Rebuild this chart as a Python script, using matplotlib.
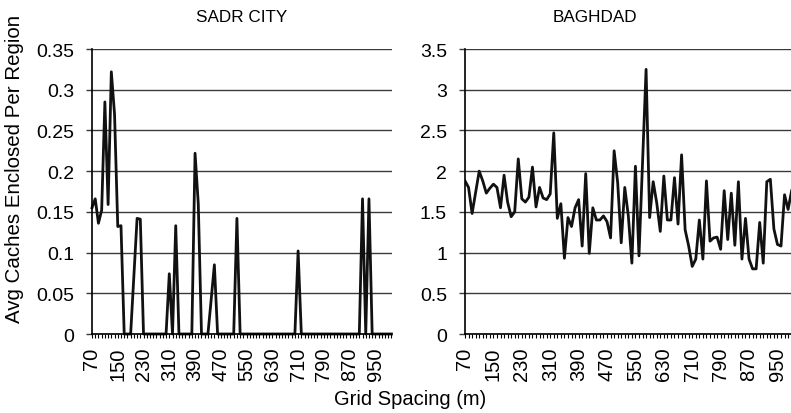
import numpy as np
from matplotlib import pyplot as plt
from matplotlib.ticker import MultipleLocator, FixedLocator

plt.rcParams['font.family'] = ['Liberation Sans', 'DejaVu Sans']

# grid spacing categories (m)
spacing = np.arange(70, 1001, 10)
tick_labels = [70, 150, 230, 310, 390, 470, 550, 630, 710, 790, 870, 950]

sadr_city = [
    0.155, 0.166, 0.136, 0.152, 0.285, 0.159, 0.322, 0.27, 0.132, 0.133,
    0, 0, 0, 0.071, 0.142, 0.141, 0, 0, 0, 0,
    0, 0, 0, 0, 0.074, 0, 0.133, 0, 0, 0,
    0, 0, 0.222, 0.16, 0, 0, 0, 0.042, 0.085, 0,
    0, 0, 0, 0, 0, 0.142, 0, 0, 0, 0,
    0, 0, 0, 0, 0, 0, 0, 0, 0, 0,
    0, 0, 0, 0, 0.102, 0, 0, 0, 0, 0,
    0, 0, 0, 0, 0, 0, 0, 0, 0, 0,
    0, 0, 0, 0, 0.166, 0, 0.166, 0, 0, 0,
    0, 0, 0, 0,
]

baghdad = [
    1.88, 1.80, 1.48, 1.74, 2.00, 1.88, 1.73, 1.79, 1.84, 1.80,
    1.55, 1.95, 1.62, 1.44, 1.50, 2.15, 1.66, 1.62, 1.68, 2.05,
    1.56, 1.80, 1.67, 1.65, 1.72, 2.47, 1.42, 1.60, 0.93, 1.43,
    1.32, 1.55, 1.65, 1.08, 1.97, 0.99, 1.55, 1.40, 1.40, 1.45,
    1.38, 1.18, 2.25, 1.86, 1.12, 1.80, 1.45, 0.87, 2.06, 0.96,
    2.10, 3.25, 1.43, 1.87, 1.61, 1.26, 1.94, 1.40, 1.40, 1.92,
    1.35, 2.20, 1.28, 1.08, 0.83, 0.92, 1.40, 0.92, 1.88, 1.14,
    1.18, 1.19, 1.04, 1.76, 1.16, 1.73, 1.09, 1.87, 0.92, 1.42,
    0.92, 0.80, 0.80, 1.37, 0.87, 1.87, 1.90, 1.29, 1.10, 1.08,
    1.71, 1.53, 1.76,
]

W, H = 791, 414
fig = plt.figure(figsize=(W / 100, H / 100), dpi=100)


def px_axes(x0, x1, y_top, y_bot):
    return fig.add_axes([x0 / W, 1 - y_bot / H, (x1 - x0) / W, (y_bot - y_top) / H])


def style(ax, ymax, ystep, yfmt):
    ax.set_xlim(70, 1000)
    ax.set_ylim(0, ymax)
    ax.xaxis.set_major_locator(FixedLocator(tick_labels))
    ax.set_xticklabels([str(t) for t in tick_labels], rotation=90)
    ax.xaxis.set_minor_locator(MultipleLocator(10))
    yt = np.arange(0, ymax + ystep / 2, ystep)
    ax.set_yticks(yt)
    ax.set_yticklabels([yfmt(v) for v in yt])
    ax.grid(axis='y', color='#3a3a3a', lw=1.0)
    ax.set_axisbelow(True)
    for s in ['top', 'right']:
        ax.spines[s].set_visible(False)
    for s in ['left', 'bottom']:
        ax.spines[s].set_color('black')
        ax.spines[s].set_linewidth(1.2)
    ax.tick_params(axis='x', which='both', length=3, width=0.8, color='black',
                   pad=6, labelsize=14.5)
    ax.tick_params(axis='y', length=4, width=1.0, color='#3a3a3a', pad=9, labelsize=14)


def fmt_small(v):
    return f'{v:.2f}'.rstrip('0').rstrip('.')


ax1 = px_axes(92, 391.5, 50, 335)
ax1.plot(spacing, sadr_city, color='#111111', lw=2.0, clip_on=False)
style(ax1, 0.35, 0.05, fmt_small)

ax2 = px_axes(465, 795.2, 50, 335)
ax2.plot(spacing[:len(baghdad)], baghdad, color='#111111', lw=2.0)
style(ax2, 3.5, 0.5, fmt_small)

fig.text(242 / W, 1 - 17 / H, 'SADR CITY', ha='center', va='center', fontsize=12.3)
fig.text(595 / W, 1 - 17 / H, 'BAGHDAD', ha='center', va='center', fontsize=12.3)
fig.text(410 / W, 1 - 400 / H, 'Grid Spacing (m)', ha='center', va='center', fontsize=14.5)
fig.text(15 / W, 1 - 169 / H, 'Avg Caches Enclosed Per Region', ha='center', va='center',
         rotation=90, fontsize=14.8)

fig.savefig('out.png', dpi=100)
